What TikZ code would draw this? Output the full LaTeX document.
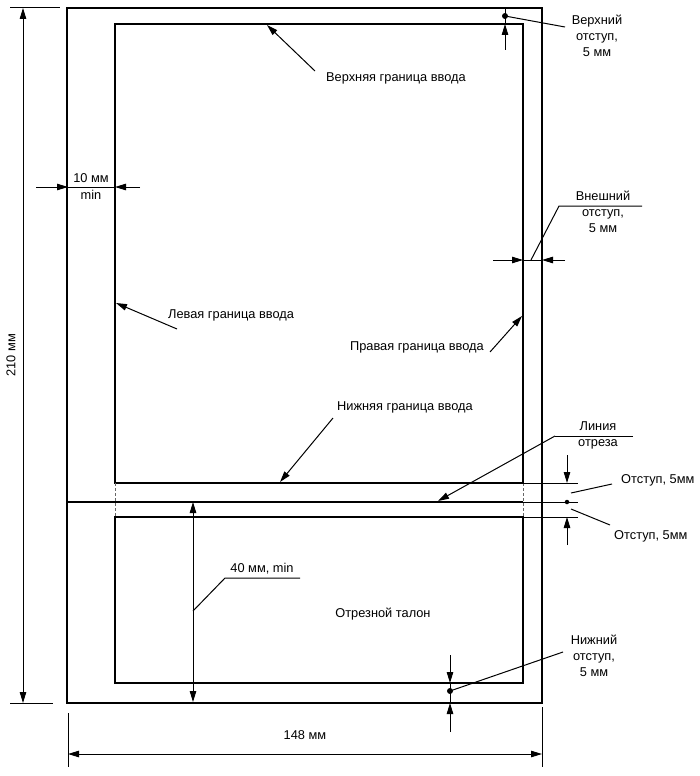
\documentclass[tikz,border=0pt]{standalone}
\usepackage{fontspec}
\setmainfont{Liberation Sans}
\usetikzlibrary{arrows.meta}
\begin{document}
\begin{tikzpicture}[x=1pt, y=-1pt, font=\fontsize{12.8}{16}\selectfont,
    border/.style = {line width=2.7pt},
    hair/.style = {line width=1pt},
    cutdash/.style = {line width=0.6pt, dash pattern=on 3pt off 2pt, black!60},
    arr/.style = {hair, -{Triangle[length=11pt, width=6.5pt]}},
    dimarr/.style = {hair, {Triangle[length=11pt, width=6.5pt]}-{Triangle[length=11pt, width=6.5pt]}},
    pt/.style = {circle, fill, inner sep=0pt, minimum size=6pt},
    lbl/.style = {inner sep=0pt, align=center}]
    \useasboundingbox (0,0) rectangle (700,776);
    \coordinate (outerTL) at (67,8);    \coordinate (outerBR) at (542,703);
    \coordinate (fieldTL) at (115,24);  \coordinate (fieldBR) at (523,483);
    \coordinate (stubTL) at (115,517);  \coordinate (stubBR) at (523,683);
    \coordinate (cutL) at (67,502);     \coordinate (cutR) at (523,502);
    \draw[border] (outerTL) rectangle (outerBR);
    \draw[border] (fieldTL) rectangle (fieldBR);
    \draw[border] (stubTL) rectangle (stubBR);
    \draw[border] (cutL) -- (cutR);
    \draw[cutdash] (115,483) -- (115,517);
    \draw[cutdash] (523,483) -- (523,517);
    \draw[hair] (10,8) -- (60,8);
    \draw[hair] (10,703) -- (53,703);
    \draw[dimarr] (23,8) -- (23,703);
    \node[lbl, rotate=90] (h210) at (11,355) {210 мм};
    \draw[hair] (68,713) -- (68,767);
    \draw[hair] (542,707) -- (542,767);
    \draw[dimarr] (68,754) -- (542,754);
    \node[lbl] (w148) at (305,735) {148 мм};
    \node[lbl] (upperTxt) at (326,78) [anchor=west] {Верхняя граница ввода};
    \coordinate (upperTail) at (315,71); \coordinate (upperTip) at (267,25);
    \draw[arr] (upperTail) -- (upperTip);
    \node[lbl] (leftTxt) at (168,315) [anchor=west] {Левая граница ввода};
    \coordinate (leftTail) at (177,329); \coordinate (leftTip) at (116,303);
    \draw[arr] (leftTail) -- (leftTip);
    \node[lbl] (rightTxt) at (484,347) [anchor=east] {Правая граница ввода};
    \coordinate (rightTail) at (490,352); \coordinate (rightTip) at (522,316);
    \draw[arr] (rightTail) -- (rightTip);
    \node[lbl] (lowerTxt) at (337,407) [anchor=west] {Нижняя граница ввода};
    \coordinate (lowerTail) at (333,418); \coordinate (lowerTip) at (280,482);
    \draw[arr] (lowerTail) -- (lowerTip);
    \node[lbl] (stubTxt) at (383,614) {Отрезной талон};
    \draw[arr] (36,187) -- (68,187);
    \draw[arr] (140,187) -- (115,187);
    \draw[hair] (68,187) -- (115,187);
    \node[lbl] (minTxt) at (91,187) {10 мм\\[1pt]min};
    \coordinate (topDot) at (505,16);
    \draw[hair] (505,8) -- (505,24);
    \draw[arr] (505,50) -- (505,24);
    \node[pt] at (topDot) {};
    \coordinate (topLead) at (565,27);
    \draw[hair] (topDot) -- (topLead);
    \node[lbl] (topTxt) at (597,36) {Верхний\\отступ,\\5 мм};
    \draw[arr] (493,260) -- (523,260);
    \draw[arr] (565,260) -- (542,260);
    \draw[hair] (523,260) -- (542,260);
    \coordinate (outFoot) at (531,260); \coordinate (outKnee) at (559,206); \coordinate (outEnd) at (642,206);
    \draw[hair] (outFoot) -- (outKnee) -- (outEnd);
    \node[lbl] (outTxt) at (603,212) {Внешний\\отступ,\\5 мм};
    \draw[hair] (523,483) -- (578,483);
    \draw[hair] (523,502) -- (578,502);
    \draw[hair] (523,517) -- (578,517);
    \draw[arr] (567,455) -- (567,483);
    \draw[arr] (567,545) -- (567,517);
    \coordinate (cutDot) at (567,502);
    \node[pt, minimum size=4.5pt] at (cutDot) {};
    \coordinate (gapUpA) at (571,493); \coordinate (gapUpB) at (612,484);
    \coordinate (gapLoA) at (571,509); \coordinate (gapLoB) at (610,525);
    \draw[hair] (gapUpA) -- (gapUpB);
    \draw[hair] (gapLoA) -- (gapLoB);
    \node[lbl] (gapUpTxt) at (621,480) [anchor=west] {Отступ, 5мм};
    \node[lbl] (gapLoTxt) at (614,536) [anchor=west] {Отступ, 5мм};
    \coordinate (cutKnee) at (555,436); \coordinate (cutEnd) at (633,436); \coordinate (cutTip) at (438,501);
    \draw[hair] (cutEnd) -- (cutKnee);
    \draw[arr] (cutKnee) -- (cutTip);
    \node[lbl] (cutTxt) at (598,435) {Линия\\отреза};
    \draw[dimarr] (193,502) -- (193,702);
    \coordinate (stubFoot) at (193,611); \coordinate (stubKnee) at (225,578); \coordinate (stubEnd) at (300,578);
    \draw[hair] (stubFoot) -- (stubKnee) -- (stubEnd);
    \node[lbl] (stubH) at (262,569) {40 мм, min};
    \draw[arr] (450,655) -- (450,683);
    \draw[arr] (450,732) -- (450,703);
    \draw[hair] (450,683) -- (450,703);
    \coordinate (botDot) at (450,691); \coordinate (botLead) at (563,652);
    \node[pt] at (botDot) {};
    \draw[hair] (botDot) -- (botLead);
    \node[lbl] (botTxt) at (594,656) {Нижний\\отступ,\\5 мм};
\end{tikzpicture}
\end{document}
